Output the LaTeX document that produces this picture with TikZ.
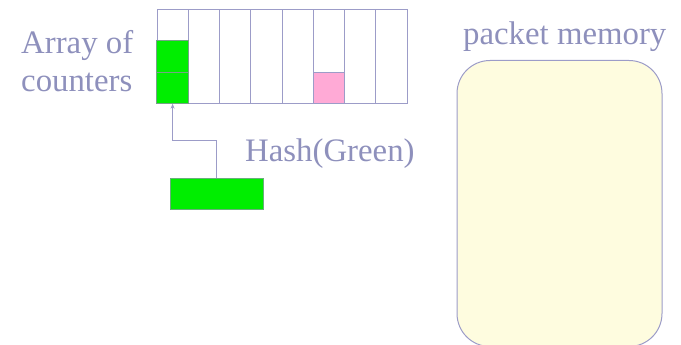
\documentclass[tikz,border=0pt]{standalone}
\usepackage{fontspec}
\setmainfont{Liberation Serif}
\usetikzlibrary{arrows.meta}
\definecolor{lineblue}{HTML}{9C9CC8}
\definecolor{textblue}{HTML}{8E90BC}
\definecolor{memfill}{HTML}{FEFCDF}
\definecolor{cellgreen}{HTML}{00EE00}
\definecolor{cellpink}{HTML}{FFAAD6}
\begin{document}
\begin{tikzpicture}[x=1pt,y=-1pt,
  cell/.style={draw=lineblue, line width=1pt, fill=white, minimum width=31.25pt,
    minimum height=31.3pt, inner sep=0pt, outer sep=0pt},
  greencell/.style={cell, fill=cellgreen, draw=lineblue!70!green!60!gray},
  pinkcell/.style={cell, fill=cellpink},
  column/.style={draw=lineblue, line width=1pt, fill=white, minimum width=31.25pt,
    minimum height=94pt, inner sep=0pt, outer sep=0pt},
  label/.style={text=textblue, font=\fontsize{32.8}{36}\selectfont, inner sep=0pt, anchor=base west},
  link/.style={draw=lineblue, line width=1pt, -{Stealth[length=5pt,width=4pt]}}]
  \useasboundingbox (0,0) rectangle (681,345);

  % array of counters: eight columns
  \foreach \i in {0,...,7}
    \node[column] (col\i) at (157+31.25*\i+15.625, 57) {};
  % filled counter cells
  \node[greencell] (c0a) at (172.6, 56.6) {};
  \node[greencell] (c0b) at (172.6, 88.1) {};
  \node[pinkcell]  (c5b) at (329.0, 88.1) {};

  % hashed key and its link to the counter
  \node[draw=lineblue!60!green!70!gray, line width=1pt, fill=cellgreen, minimum width=93pt,
        minimum height=31.5pt, inner sep=0pt] (key) at (216.5, 194) {};
  \coordinate (bend) at (172.6, 141);
  \draw[link] (key.north) |- (bend) -- (c0b.south);

  % packet memory
  \begin{scope}
    \clip (0,0) rectangle (681,345);
    \draw[draw=lineblue, line width=1pt, fill=memfill, rounded corners=33pt]
      (457,60.5) rectangle (662,346.5);
  \end{scope}

  % labels
  \node[label] (arr) at (21, 54) {Array of};
  \node[label] (cnt) at (21, 92) {counters};
  \node[label] (hash) at (245, 161) {Hash(Green)};
  \node[label] (mem) at (463, 45) {packet memory};
\end{tikzpicture}
\end{document}
